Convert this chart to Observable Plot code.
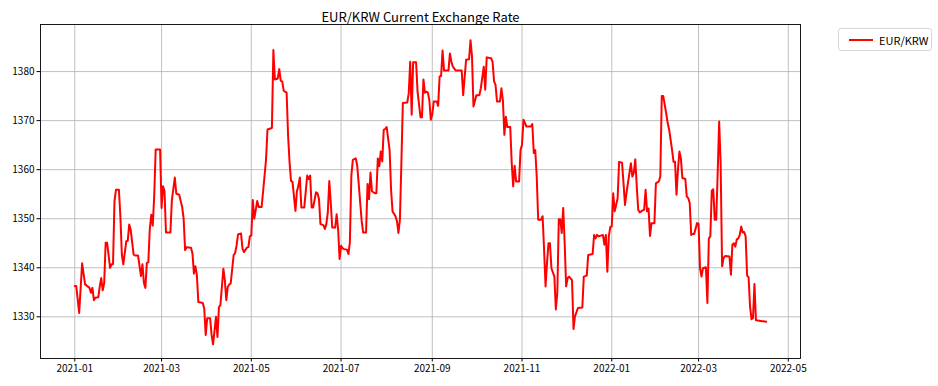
<!DOCTYPE html>
<html>
<head>
<meta charset="utf-8">
<script src="https://cdn.jsdelivr.net/npm/d3@7"></script>
<script src="https://cdn.jsdelivr.net/npm/@observablehq/plot@0.6"></script>
<style>
  html, body { margin: 0; padding: 0; background: #fff; }
  #wrap { position: relative; width: 938px; height: 386px; font-family: "Noto Sans CJK KR", "Noto Sans", sans-serif; }
  #legend { position: absolute; left: 838px; top: 28px; width: 94px; height: 23px; box-sizing: border-box;
            border: 1px solid #d6d6d6; border-radius: 3px; background: #fff; display: flex; align-items: center;
            font-size: 11px; color: #000; }
  #legend .sw { width: 24px; height: 2px; background: red; margin-left: 10px; margin-right: 6px; }
</style>
</head>
<body>
<div id="wrap"></div>
<script>
const title = "EUR/KRW Current Exchange Rate";
const seriesName = "EUR/KRW";
const xTicks = ["2021-01-01","2021-03-01","2021-05-01","2021-07-01","2021-09-01","2021-11-01","2022-01-01","2022-03-01","2022-05-01"];
const yTicks = [1330, 1340, 1350, 1360, 1370, 1380];

const dates = [
"2021-01-01","2021-01-02","2021-01-04","2021-01-06","2021-01-08","2021-01-09","2021-01-11","2021-01-12","2021-01-13","2021-01-14","2021-01-15","2021-01-17","2021-01-18","2021-01-19","2021-01-20","2021-01-21","2021-01-22","2021-01-23","2021-01-25","2021-01-26","2021-01-27","2021-01-28","2021-01-29","2021-01-31",
"2021-02-01","2021-02-02","2021-02-03","2021-02-05","2021-02-06","2021-02-07","2021-02-08","2021-02-10","2021-02-11","2021-02-13","2021-02-15","2021-02-16","2021-02-17","2021-02-18","2021-02-19","2021-02-20","2021-02-21","2021-02-22","2021-02-23","2021-02-24","2021-02-25","2021-02-28",
"2021-03-01","2021-03-02","2021-03-03","2021-03-04","2021-03-07","2021-03-08","2021-03-10","2021-03-11","2021-03-13","2021-03-15","2021-03-16","2021-03-17","2021-03-18","2021-03-21","2021-03-22","2021-03-23","2021-03-24","2021-03-25","2021-03-26","2021-03-29","2021-03-30","2021-03-31",
"2021-04-01","2021-04-03","2021-04-04","2021-04-05","2021-04-07","2021-04-08","2021-04-09","2021-04-10","2021-04-12","2021-04-13","2021-04-14","2021-04-15","2021-04-16","2021-04-17","2021-04-19","2021-04-20","2021-04-21","2021-04-22","2021-04-24","2021-04-25","2021-04-26","2021-04-28","2021-04-29","2021-04-30",
"2021-05-01","2021-05-02","2021-05-03","2021-05-05","2021-05-06","2021-05-08","2021-05-09","2021-05-11","2021-05-12","2021-05-15","2021-05-16","2021-05-17","2021-05-19","2021-05-20","2021-05-21","2021-05-22","2021-05-23","2021-05-25","2021-05-26","2021-05-27","2021-05-28","2021-05-29","2021-05-31",
"2021-06-01","2021-06-02","2021-06-03","2021-06-04","2021-06-06","2021-06-08","2021-06-09","2021-06-10","2021-06-11","2021-06-12","2021-06-14","2021-06-15","2021-06-16","2021-06-17","2021-06-19","2021-06-20","2021-06-21","2021-06-22","2021-06-23","2021-06-24","2021-06-25","2021-06-27","2021-06-28","2021-06-29","2021-06-30",
"2021-07-01","2021-07-02","2021-07-03","2021-07-05","2021-07-06","2021-07-07","2021-07-08","2021-07-09","2021-07-11","2021-07-12","2021-07-13","2021-07-14","2021-07-15","2021-07-16","2021-07-18","2021-07-19","2021-07-20","2021-07-21","2021-07-22","2021-07-24","2021-07-25","2021-07-26","2021-07-27","2021-07-28","2021-07-29","2021-07-30","2021-07-31",
"2021-08-01","2021-08-03","2021-08-04","2021-08-05","2021-08-07","2021-08-08","2021-08-09","2021-08-10","2021-08-11","2021-08-12","2021-08-15","2021-08-16","2021-08-17","2021-08-18","2021-08-19","2021-08-21","2021-08-22","2021-08-24","2021-08-25","2021-08-26","2021-08-27","2021-08-28","2021-08-29","2021-08-30","2021-08-31",
"2021-09-01","2021-09-02","2021-09-04","2021-09-05","2021-09-06","2021-09-07","2021-09-08","2021-09-09","2021-09-12","2021-09-13","2021-09-14","2021-09-15","2021-09-17","2021-09-21","2021-09-22","2021-09-24","2021-09-26","2021-09-27","2021-09-28","2021-09-29",
"2021-10-01","2021-10-03","2021-10-04","2021-10-06","2021-10-07","2021-10-08","2021-10-11","2021-10-12","2021-10-13","2021-10-14","2021-10-15","2021-10-17","2021-10-18","2021-10-19","2021-10-20","2021-10-21","2021-10-22","2021-10-24","2021-10-25","2021-10-26","2021-10-27","2021-10-28","2021-10-30","2021-10-31",
"2021-11-01","2021-11-02","2021-11-04","2021-11-07","2021-11-08","2021-11-09","2021-11-10","2021-11-11","2021-11-12","2021-11-14","2021-11-15","2021-11-16","2021-11-17","2021-11-18","2021-11-19","2021-11-20","2021-11-21","2021-11-23","2021-11-24","2021-11-25","2021-11-26","2021-11-27","2021-11-28","2021-11-29","2021-11-30",
"2021-12-01","2021-12-02","2021-12-03","2021-12-05","2021-12-06","2021-12-07","2021-12-09","2021-12-12","2021-12-13","2021-12-15","2021-12-16","2021-12-19","2021-12-20","2021-12-21","2021-12-22","2021-12-23","2021-12-26","2021-12-27","2021-12-28","2021-12-29","2021-12-30","2021-12-31",
"2022-01-01","2022-01-02","2022-01-03","2022-01-05","2022-01-06","2022-01-08","2022-01-09","2022-01-10","2022-01-11","2022-01-13","2022-01-14","2022-01-15","2022-01-16","2022-01-17","2022-01-18","2022-01-19","2022-01-20","2022-01-22","2022-01-23","2022-01-24","2022-01-25","2022-01-26","2022-01-27","2022-01-28","2022-01-30","2022-01-31",
"2022-02-02","2022-02-03","2022-02-04","2022-02-05","2022-02-07","2022-02-08","2022-02-09","2022-02-11","2022-02-12","2022-02-13","2022-02-14","2022-02-15","2022-02-16","2022-02-17","2022-02-18","2022-02-20","2022-02-21","2022-02-22","2022-02-23","2022-02-24","2022-02-25","2022-02-26","2022-02-28",
"2022-03-01","2022-03-02","2022-03-03","2022-03-04","2022-03-06","2022-03-07","2022-03-08","2022-03-09","2022-03-10","2022-03-11","2022-03-12","2022-03-13","2022-03-14","2022-03-15","2022-03-16","2022-03-17","2022-03-18","2022-03-19","2022-03-22","2022-03-23","2022-03-24","2022-03-25","2022-03-26","2022-03-27","2022-03-28","2022-03-29","2022-03-30","2022-03-31",
"2022-04-01","2022-04-02","2022-04-03","2022-04-04","2022-04-05","2022-04-06","2022-04-07","2022-04-08","2022-04-09","2022-04-16"
];

const rates = [
1336.3,1336.3,1330.8,1340.9,1336.6,1336.4,1335.9,1334.9,1335.9,1333.4,1333.9,1334.0,1336.2,1337.9,1335.4,1336.9,1345.1,1345.1,1340.0,1340.7,1340.7,1353.6,1355.9,1355.9,
1350.5,1342.7,1340.7,1345.4,1345.5,1348.8,1347.8,1342.7,1342.5,1342.5,1338.3,1340.7,1336.9,1335.9,1341.0,1341.1,1347.9,1350.8,1348.6,1354.6,1364.1,1364.1,
1352.2,1356.6,1355.6,1347.2,1347.2,1353.8,1358.4,1355.1,1354.9,1352.4,1350.0,1343.6,1344.2,1344.1,1342.9,1338.8,1340.3,1338.5,1333.0,1332.8,1331.7,1326.3,
1329.7,1329.7,1326.3,1324.4,1330.0,1325.9,1332.0,1332.4,1339.8,1337.5,1333.4,1336.1,1336.6,1336.8,1342.6,1343.0,1344.6,1346.8,1347.0,1343.9,1343.2,1344.1,1344.2,1346.4,
1346.6,1353.8,1350.0,1353.6,1352.4,1352.4,1355.5,1362.0,1368.2,1368.5,1384.4,1378.4,1378.6,1380.5,1378.1,1378.0,1376.1,1375.7,1366.9,1361.5,1357.7,1357.5,1351.6,
1355.6,1356.7,1358.4,1352.3,1352.3,1358.8,1358.1,1358.8,1352.3,1352.3,1355.4,1355.2,1354.0,1348.9,1348.7,1347.9,1348.9,1351.3,1357.7,1353.3,1348.2,1348.2,1350.9,1347.9,1341.8,
1344.5,1344.0,1343.8,1343.7,1342.8,1345.2,1358.8,1362.0,1362.3,1360.8,1357.1,1353.3,1349.6,1347.2,1347.2,1357.1,1354.0,1359.4,1355.6,1355.2,1355.2,1362.3,1360.7,1363.7,1361.7,1368.1,1368.3,
1368.7,1364.0,1355.9,1351.5,1350.5,1349.5,1347.1,1349.8,1361.3,1373.6,1373.7,1375.6,1382.0,1371.2,1381.9,1381.9,1375.9,1370.7,1370.7,1378.4,1375.7,1375.9,1375.7,1374.2,1370.2,
1371.2,1373.9,1373.9,1373.0,1379.0,1379.1,1384.3,1380.2,1380.2,1383.7,1382.0,1381.0,1380.2,1380.2,1375.2,1382.4,1382.5,1386.4,1383.1,1372.9,
1375.2,1375.2,1376.6,1381.0,1376.3,1382.9,1382.7,1382.0,1378.0,1377.3,1373.9,1373.9,1376.6,1374.2,1367.1,1370.8,1368.7,1368.7,1361.3,1356.6,1360.8,1357.6,1357.6,1364.0,
1365.1,1370.2,1368.8,1368.8,1369.3,1363.4,1364.0,1358.6,1349.8,1349.8,1350.5,1343.7,1336.2,1341.0,1345.0,1345.0,1339.9,1338.2,1331.5,1334.9,1349.9,1349.9,1347.1,1352.2,1345.0,
1336.2,1337.9,1338.2,1337.5,1327.5,1330.1,1331.8,1331.9,1338.2,1338.4,1342.6,1342.8,1346.7,1346.0,1346.7,1346.4,1346.7,1344.7,1346.7,1339.2,1346.4,1348.3,
1348.4,1355.2,1351.5,1354.2,1361.6,1361.4,1357.2,1352.8,1355.2,1359.3,1361.3,1358.6,1359.4,1362.1,1356.6,1351.8,1351.3,1351.7,1351.8,1355.9,1351.5,1352.1,1346.5,1349.1,1349.1,1357.2,
1357.6,1358.6,1375.0,1375.0,1371.5,1369.5,1368.2,1364.0,1361.6,1361.6,1354.9,1360.0,1363.7,1362.3,1358.3,1358.1,1354.5,1354.2,1353.2,1346.7,1346.9,1346.9,1349.1,
1349.0,1339.9,1338.2,1339.9,1340.1,1332.8,1346.0,1346.4,1355.7,1356.0,1349.8,1349.8,1359.3,1369.8,1361.3,1340.3,1342.0,1342.4,1342.3,1338.6,1344.7,1345.0,1344.3,1345.8,1346.0,1346.7,1348.4,1347.2,
1347.3,1346.4,1338.4,1338.1,1332.1,1329.5,1329.7,1336.7,1329.3,1329.0
];

const data = dates.map((d, i) => ({date: new Date(d), rate: rates[i]}));
const xt = xTicks.map(d => new Date(d));
const font = '"Noto Sans CJK KR", "Noto Sans", sans-serif';

const chart = Plot.plot({
  width: 938,
  height: 386,
  marginLeft: 40,
  marginRight: 138,
  marginTop: 24,
  marginBottom: 28,
  style: {fontFamily: font, fontSize: "10px", color: "#000", background: "#fff"},
  x: {type: "utc", domain: [new Date("2020-12-08T17:00:00Z"), new Date("2022-05-09T07:00:00Z")], label: null},
  y: {domain: [1321.5, 1389.6], label: null},
  marks: [
    Plot.gridX(xt, {stroke: "#b0b0b0", strokeOpacity: 1, strokeWidth: 0.8}),
    Plot.gridY(yTicks, {stroke: "#b0b0b0", strokeOpacity: 1, strokeWidth: 0.8}),
    Plot.axisX(xt, {tickFormat: d3.utcFormat("%Y-%m"), tickSize: 3.5, tickPadding: 2.5, label: null, stroke: "#000", fill: "#000", fontSize: 10}),
    Plot.axisY(yTicks, {tickFormat: d => String(d), tickSize: 3.5, tickPadding: 2.5, label: null, stroke: "#000", fill: "#000", fontSize: 10}),
    Plot.lineY(data, {x: "date", y: "rate", stroke: "red", strokeWidth: 2}),
    Plot.frame({stroke: "#000", strokeWidth: 0.9}),
    Plot.text([title], {frameAnchor: "top", dy: -12, fontSize: 13, fill: "#000", text: d => d})
  ]
});

const wrap = document.getElementById("wrap");
wrap.appendChild(chart);
const legend = document.createElement("div");
legend.id = "legend";
legend.innerHTML = '<div class="sw"></div><span></span>';
legend.querySelector("span").textContent = seriesName;
wrap.appendChild(legend);
</script>
</body>
</html>
